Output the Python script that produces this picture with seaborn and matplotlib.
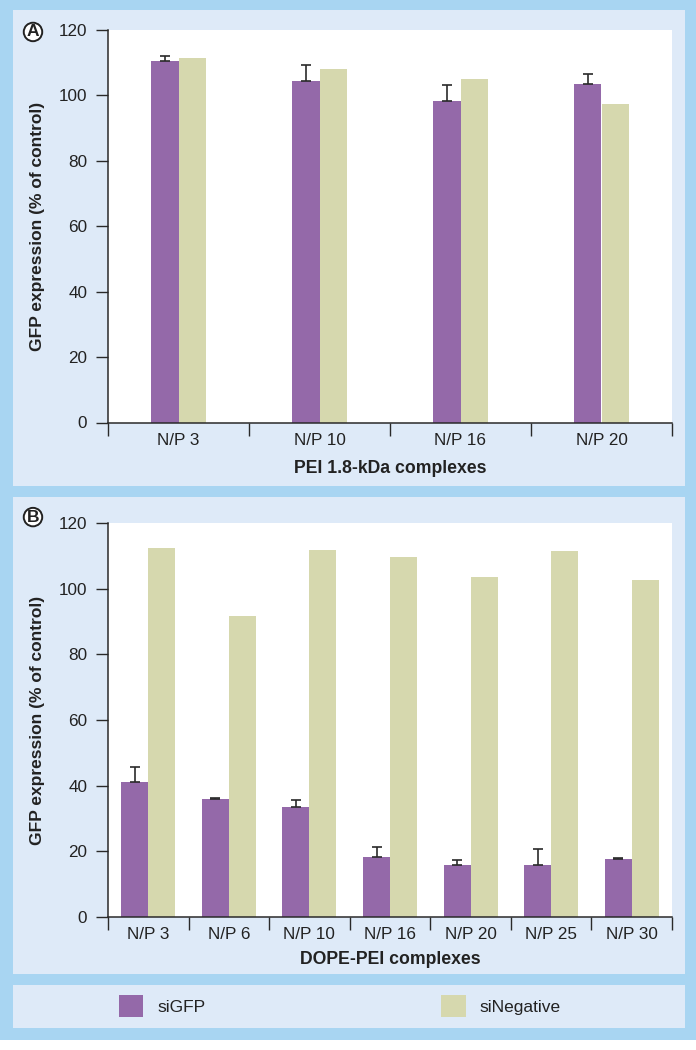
import numpy as np
import pandas as pd
import matplotlib
matplotlib.use("Agg")
import matplotlib.pyplot as plt
from matplotlib.patches import Rectangle
import seaborn as sns

# ---------------- data ----------------
categories_A = ["N/P 3", "N/P 10", "N/P 16", "N/P 20"]
siGFP_A = [110.6, 104.5, 98.2, 103.4]
siGFP_A_err = [1.3, 4.7, 5.1, 3.0]
siNeg_A = [111.4, 108.0, 105.0, 97.4]

categories_B = ["N/P 3", "N/P 6", "N/P 10", "N/P 16", "N/P 20", "N/P 25", "N/P 30"]
siGFP_B = [41.1, 35.9, 33.6, 18.3, 15.9, 15.9, 17.7]
siGFP_B_err = [4.5, 0.4, 1.9, 3.1, 1.4, 4.9, 0.3]
siNeg_B = [112.4, 91.8, 111.7, 109.5, 103.6, 111.4, 102.7]

series_names = ["siGFP", "siNegative"]
y_ticks = [0, 20, 40, 60, 80, 100, 120]

# ---------------- style ----------------
sns.set_theme(style="white")
plt.rcParams["font.family"] = ["Liberation Sans", "DejaVu Sans"]

PURPLE = "#9469a9"
BEIGE = "#d6d8ae"
PANEL = "#deeaf8"
OUTER = "#a8d5f2"
DARK = "#2a2a2a"

W, H = 696, 1050
fig = plt.figure(figsize=(W / 100, H / 100), dpi=100)
fig.patch.set_facecolor("white")


def fr(x0, y0, x1, y1, color):
    fig.patches.append(Rectangle((x0 / W, 1 - y1 / H), (x1 - x0) / W, (y1 - y0) / H,
                                 transform=fig.transFigure, facecolor=color,
                                 edgecolor="none", zorder=-10))


fr(0, 0, 696, 1040, OUTER)
fr(13, 10, 685, 486, PANEL)
fr(13, 497, 685, 974, PANEL)
fr(13, 985, 685, 1028, PANEL)


def make_df(cats, a, b):
    return pd.DataFrame({
        "cat": cats * 2,
        "val": list(a) + list(b),
        "series": [series_names[0]] * len(cats) + [series_names[1]] * len(cats),
    })


def panel(ax, cats, a, a_err, b, width, xlabel, letter, letter_y, show_legend):
    df = make_df(cats, a, b)
    sns.barplot(data=df, x="cat", y="val", hue="series", order=cats,
                hue_order=series_names, palette=[PURPLE, BEIGE], width=width,
                errorbar=None, linewidth=0, ax=ax, legend=show_legend, saturation=1)
    bars = ax.containers[0]
    xs = [p.get_x() + p.get_width() / 2 for p in bars]
    ax.errorbar(xs, a, yerr=[np.zeros(len(a)), a_err], fmt="none",
                ecolor=DARK, elinewidth=1.2, capsize=3.5, capthick=1.2, zorder=1)
    n = len(cats)
    ax.set_xlim(-0.5, n - 0.5)
    ax.set_ylim(0, 120)
    ax.set_yticks(y_ticks)
    ax.set_yticklabels([str(t) for t in y_ticks], fontsize=12.3, color="#222222")
    ax.set_xticks(np.arange(n + 1) - 0.5)
    ax.set_xticklabels([""] * (n + 1))
    ax.set_xticks(np.arange(n), minor=True)
    ax.set_xticklabels(cats, minor=True, fontsize=12.3, color="#222222")
    ax.tick_params(axis="x", which="major", direction="out", length=9, width=1, color=DARK, bottom=True)
    ax.tick_params(axis="x", which="minor", length=0, pad=7.5, bottom=True)
    ax.tick_params(axis="y", direction="out", length=9, width=1, color=DARK, pad=6, left=True)
    ax.set_facecolor("white")
    for s in ["top", "right"]:
        ax.spines[s].set_visible(False)
    for s in ["left", "bottom"]:
        ax.spines[s].set_color(DARK)
        ax.spines[s].set_linewidth(1.1)
    ax.set_xlabel(xlabel, fontsize=12.7, fontweight="bold", color="#222222")
    ax.set_ylabel("GFP expression (% of control)", fontsize=12.5, fontweight="bold", color="#222222")
    ax.yaxis.set_label_coords(-0.111, 0.5)
    ax.text(-0.133, letter_y, letter, transform=ax.transAxes, ha="center", va="center",
            fontsize=12.5, fontweight="bold", color="#222222",
            bbox=dict(boxstyle="circle,pad=0.1", facecolor="white", edgecolor="#222222", linewidth=1.4))


axA = fig.add_axes([108 / W, 1 - 422.5 / H, 564 / W, 392.5 / H])
axB = fig.add_axes([108 / W, 1 - 917 / H, 564 / W, 394 / H])

panel(axA, categories_A, siGFP_A, siGFP_A_err, siNeg_A, 0.39, "PEI 1.8-kDa complexes", "A", 0.995, True)
panel(axB, categories_B, siGFP_B, siGFP_B_err, siNeg_B, 0.67, "DOPE-PEI complexes", "B", 1.015, False)
axA.xaxis.set_label_coords(0.5, -0.095)
axB.xaxis.set_label_coords(0.5, -0.086)

handles, labels = axA.get_legend_handles_labels()
axA.get_legend().remove()
fig.legend(handles, labels, loc="center left", bbox_to_anchor=(119 / W, 1 - 1006 / H),
           ncol=2, frameon=False, fontsize=12.5, handlelength=1.4, handleheight=1.5,
           handletextpad=0.8, columnspacing=13.6, borderpad=0, borderaxespad=0,
           labelcolor="#222222")

fig.savefig("out.png", dpi=100)
